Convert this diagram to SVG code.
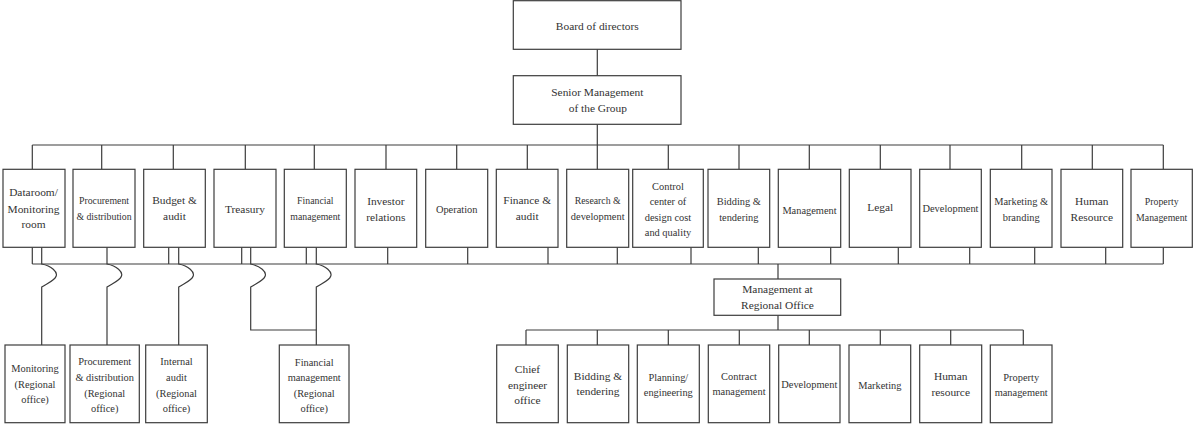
<svg xmlns="http://www.w3.org/2000/svg" width="1195" height="425" viewBox="0 0 1195 425">
<style>
.b{fill:#fff;stroke:#3c3c3c;stroke-width:1.2}
.c{fill:none;stroke:#3c3c3c;stroke-width:1.2}
text{font-family:"Liberation Serif","Times New Roman",serif;fill:#333;text-anchor:middle}
.a{font-size:11.4px}.m{font-size:10.4px}.s{font-size:9.8px}
</style>
<rect width="1195" height="425" fill="#fff"/>
<g id="connectors">
<path class="c" d="M597.3,49.3V75.7M597.3,124.3V145M32.3,145H1163.3"/>
<path class="c" d="M32.3,145V169.3M101.7,145V169.3M173.3,145V169.3M245.3,145V169.3M314.3,145V169.3M386,145V169.3M456.7,145V169.3M527.3,145V169.3M597.3,145V169.3M668.3,145V169.3M739,145V169.3M809.3,145V169.3M880.3,145V169.3M950,145V169.3M1021.7,145V169.3M1092.3,145V169.3M1163.3,145V169.3"/>
<path class="c" d="M32.3,264H1163.3M32.3,247.3V264M168.7,247.3V264M241.7,247.3V264M306.3,247.3V264M387.7,247.3V264M467.7,247.3V264M548,247.3V264M617.3,247.3V264M691,247.3V264M758.3,247.3V264M830.7,247.3V264M898.3,247.3V264M969.7,247.3V264M1034.7,247.3V264M1105.7,247.3V264M1163.3,247.3V264"/>
<path class="c" d="M41.7,247.3V264C51.7,266 57.7,272 56.2,276C54.7,281 45.7,284 41.7,287V345"/>
<path class="c" d="M107,247.3V264C117,266 123,272 121.5,276C120,281 111,284 107,287V345"/>
<path class="c" d="M178.7,247.3V264C188.7,266 194.7,272 193.2,276C191.7,281 182.7,284 178.7,287V345"/>
<path class="c" d="M250.7,247.3V264C260.7,266 266.7,272 265.2,276C263.7,281 254.7,284 250.7,287V330H316.3"/>
<path class="c" d="M316.3,247.3V264C326.3,266 332.3,272 330.8,276C329.3,281 320.3,284 316.3,287V345"/>
<path class="c" d="M778,264V279M778,315.3V330M526,330H1023.3M526,330V345M597.3,330V345M668.3,330V345M739.3,330V345M809.3,330V345M880.3,330V345M950.7,330V345M1023.3,330V345"/>
</g>
<g id="board"><rect class="b" x="513.3" y="0.7" width="167.7" height="48.6"/><text class="a" x="597.3" y="30">Board of directors</text></g>
<g id="senior"><rect class="b" x="513.3" y="75.7" width="167.7" height="48.6"/><text class="a" x="597.3" y="96">Senior Management</text><text class="a" x="597.8" y="112">of the Group</text></g>
<g id="dataroom"><rect class="b" x="3" y="169.3" width="62" height="78"/><text class="a" x="33.5" y="196">Dataroom/</text><text class="a" x="33.5" y="212.5">Monitoring</text><text class="a" x="33.5" y="228">room</text></g>
<g id="procurement"><rect class="b" x="73" y="169.3" width="62" height="78"/><text class="s" x="104" y="204">Procurement</text><text class="s" x="104" y="220">&amp; distribution</text></g>
<g id="budget"><rect class="b" x="143.7" y="169.3" width="61.6" height="78"/><text class="a" x="174.5" y="204">Budget &amp;</text><text class="a" x="174.5" y="220">audit</text></g>
<g id="treasury"><rect class="b" x="214" y="169.3" width="62" height="78"/><text class="a" x="245" y="212.5">Treasury</text></g>
<g id="financial"><rect class="b" x="284.3" y="169.3" width="62" height="78"/><text class="s" x="315.3" y="204">Financial</text><text class="s" x="315.3" y="220">management</text></g>
<g id="investor"><rect class="b" x="355" y="169.3" width="61.7" height="78"/><text class="a" x="385.8" y="205">Investor</text><text class="a" x="385.8" y="221">relations</text></g>
<g id="operation"><rect class="b" x="425.7" y="169.3" width="62" height="78"/><text class="m" x="456.7" y="212.5">Operation</text></g>
<g id="finance-audit"><rect class="b" x="496.3" y="169.3" width="61.7" height="78"/><text class="a" x="527.2" y="204">Finance &amp;</text><text class="a" x="527.2" y="220">audit</text></g>
<g id="rnd"><rect class="b" x="566.7" y="169.3" width="62" height="78"/><text class="s" x="597.7" y="204">Research &amp;</text><text class="m" x="597.7" y="220">development</text></g>
<g id="control"><rect class="b" x="632.7" y="169.3" width="70.6" height="78"/><text class="m" x="668" y="189.5">Control</text><text class="m" x="668" y="205">center of</text><text class="m" x="668" y="221">design cost</text><text class="m" x="668" y="236">and quality</text></g>
<g id="bidding"><rect class="b" x="708" y="169.3" width="61.7" height="78"/><text class="m" x="738.8" y="205">Bidding &amp;</text><text class="m" x="738.8" y="221">tendering</text></g>
<g id="management"><rect class="b" x="778.3" y="169.3" width="62.4" height="78"/><text class="m" x="809.5" y="214">Management</text></g>
<g id="legal"><rect class="b" x="849.3" y="169.3" width="61.7" height="78"/><text class="a" x="880.2" y="211">Legal</text></g>
<g id="development"><rect class="b" x="919.7" y="169.3" width="61.6" height="78"/><text class="m" x="950.5" y="212">Development</text></g>
<g id="marketing"><rect class="b" x="990.3" y="169.3" width="61.7" height="78"/><text class="m" x="1021.2" y="204.5">Marketing &amp;</text><text class="m" x="1021.2" y="221">branding</text></g>
<g id="hr"><rect class="b" x="1061" y="169.3" width="61.7" height="78"/><text class="a" x="1091.8" y="204.5">Human</text><text class="a" x="1091.8" y="221">Resource</text></g>
<g id="property"><rect class="b" x="1131" y="169.3" width="61.3" height="78"/><text class="s" x="1161.7" y="204.5">Property</text><text class="s" x="1161.7" y="221">Management</text></g>
<g id="mgmt-ro"><rect class="b" x="714" y="279" width="126.7" height="36.3"/><text class="a" x="777.5" y="293">Management at</text><text class="a" x="777.5" y="308.5">Regional Office</text></g>
<g id="monitoring-ro"><rect class="b" x="5" y="345" width="60" height="77.7"/><text class="m" x="35" y="372">Monitoring</text><text class="m" x="35" y="387.5">(Regional</text><text class="m" x="35" y="402.5">office)</text></g>
<g id="procurement-ro"><rect class="b" x="70" y="345" width="69.3" height="77.7"/><text class="m" x="104.7" y="365">Procurement</text><text class="m" x="104.7" y="381">&amp; distribution</text><text class="m" x="104.7" y="396.5">(Regional</text><text class="m" x="104.7" y="411.5">office)</text></g>
<g id="audit-ro"><rect class="b" x="145.7" y="345" width="61.6" height="77.7"/><text class="m" x="176.5" y="365">Internal</text><text class="m" x="176.5" y="381">audit</text><text class="m" x="176.5" y="396.5">(Regional</text><text class="m" x="176.5" y="411.5">office)</text></g>
<g id="financial-ro"><rect class="b" x="279.3" y="345" width="69.7" height="77.7"/><text class="m" x="314.2" y="366">Financial</text><text class="m" x="314.2" y="381">management</text><text class="m" x="314.2" y="397">(Regional</text><text class="m" x="314.2" y="411.5">office)</text></g>
<g id="chief-ro"><rect class="b" x="496.7" y="345" width="61.6" height="77.7"/><text class="a" x="527.5" y="372.5">Chief</text><text class="a" x="527.5" y="388.5">engineer</text><text class="a" x="527.5" y="403.5">office</text></g>
<g id="bidding-ro"><rect class="b" x="567.3" y="345" width="61.4" height="77.7"/><text class="a" x="598" y="380">Bidding &amp;</text><text class="a" x="598" y="395">tendering</text></g>
<g id="planning-ro"><rect class="b" x="637.3" y="345" width="62" height="77.7"/><text class="m" x="668.3" y="381">Planning/</text><text class="m" x="668.3" y="396">engineering</text></g>
<g id="contract-ro"><rect class="b" x="708.3" y="345" width="61.4" height="77.7"/><text class="m" x="739" y="380">Contract</text><text class="m" x="739" y="395">management</text></g>
<g id="development-ro"><rect class="b" x="778.7" y="345" width="61.3" height="77.7"/><text class="m" x="809.3" y="387.5">Development</text></g>
<g id="marketing-ro"><rect class="b" x="849" y="345" width="61.7" height="77.7"/><text class="m" x="879.8" y="388.5">Marketing</text></g>
<g id="hr-ro"><rect class="b" x="919.7" y="345" width="62" height="77.7"/><text class="a" x="950.7" y="380">Human</text><text class="a" x="950.7" y="396">resource</text></g>
<g id="property-ro"><rect class="b" x="990.3" y="345" width="61.7" height="77.7"/><text class="m" x="1021.2" y="381">Property</text><text class="m" x="1021.2" y="396">management</text></g>
</svg>
